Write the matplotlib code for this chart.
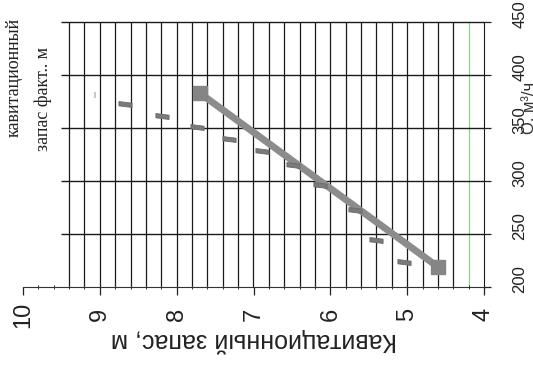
import numpy as np
import matplotlib
matplotlib.use("Agg")
import matplotlib.pyplot as plt
import matplotlib.transforms as mtransforms
from matplotlib.path import Path

# kavitatsionnyi zapas (x, inverted) vs Q (right axis)
line_npsh = [7.7, 4.6]
line_q = [383, 219]

fact_npsh = [8.67, 8.19, 7.73, 7.32, 6.89, 6.48, 6.13, 5.68, 5.40, 5.04]
fact_q = [373, 361, 351, 340, 328, 315, 296, 273, 244, 224]

faint_npsh = [9.06]
faint_q = [381]

x_ticks = [10, 9, 8, 7, 6, 5, 4]
q_ticks = [200, 250, 300, 350, 400, 450]

plt.rcParams['font.family'] = ['Liberation Sans', 'DejaVu Sans']

fig = plt.figure(figsize=(5.33, 3.67), dpi=100)
ax = fig.add_axes([23 / 533, 1 - 287 / 367, (484 - 23) / 533, (287 - 22) / 367])
ax.set_xlim(10, 4)
ax.set_ylim(200, 450)

# grid, drawn by hand because it does not cover the whole axis
vgrid = np.arange(4.2, 9.41, 0.2)
for v in vgrid:
    col = '#8fd18f' if abs(v - 4.2) < 1e-6 else '#1a1a1a'
    ax.vlines(v, 200, 450, color=col, lw=0.9, zorder=1)
ax.hlines(q_ticks[1:], 9.5, 4.0, color='#1a1a1a', lw=1.0, zorder=1, clip_on=False)

for s in ['top', 'left']:
    ax.spines[s].set_visible(False)
ax.spines['bottom'].set_color('#333333')
ax.spines['right'].set_color('#1a1a1a')

ax.set_xticks(x_ticks)
ax.set_xticks(np.arange(4, 10.01, 0.2), minor=True)
ax.set_xticklabels([str(t) for t in x_ticks], rotation=90, va='center', fontsize=17)
ax.tick_params(axis='x', which='major', length=6, width=0.9, pad=14, colors='#222222')
ax.tick_params(axis='x', which='minor', length=3, width=0.7, direction='inout', colors='#333333')

ax.yaxis.tick_right()
ax.set_yticks(q_ticks)
ax.set_yticklabels([str(t) for t in q_ticks], rotation=90, va='center', ha='center', fontsize=12)
ax.tick_params(axis='y', length=5, width=0.9, pad=21, colors='#222222')
shift = mtransforms.ScaledTranslation(0, 6 / 72, fig.dpi_scale_trans)
for lab in ax.get_yticklabels():
    lab.set_transform(lab.get_transform() + shift)

ax.set_xlabel('Кавитационный запас, м', rotation=180, fontsize=18, labelpad=0, color='#222222')

# thick fitted line with square ends
ax.plot(line_npsh, line_q, color='#8c8c8c', lw=5, marker='s', ms=10,
        mfc='#858585', mec='#858585', zorder=3, solid_capstyle='butt')

# measured points as short slanted blocks
dash = Path([(-1, 0.45), (1, 0.2), (1, -0.45), (-1, -0.2), (-1, 0.45)],
            [Path.MOVETO, Path.LINETO, Path.LINETO, Path.LINETO, Path.CLOSEPOLY])
ax.plot(fact_npsh, fact_q, ls='none', marker=dash, ms=9.5,
        mfc='#7a7a7a', mec='#6a6a6a', mew=0.6, zorder=4)
ax.plot(faint_npsh, faint_q, ls='none', marker='|', ms=5,
        mec='#c8c8c8', mew=1.5, zorder=4)

fig.text(0.977, 1 - 108 / 367, 'Q, м³/ч', rotation=90, ha='left', va='center',
         fontsize=12, color='#333333')

fig.text(14 / 533, 1 - 18 / 367, 'кавитационный', rotation=90, ha='center', va='top',
         fontsize=13, family=['Liberation Serif', 'DejaVu Serif'], color='#222222')
fig.text(43 / 533, 1 - 47 / 367, 'запас факт.. м', rotation=90, ha='center', va='top',
         fontsize=13, family=['Liberation Serif', 'DejaVu Serif'], color='#222222')

fig.savefig('out.png', dpi=100)
